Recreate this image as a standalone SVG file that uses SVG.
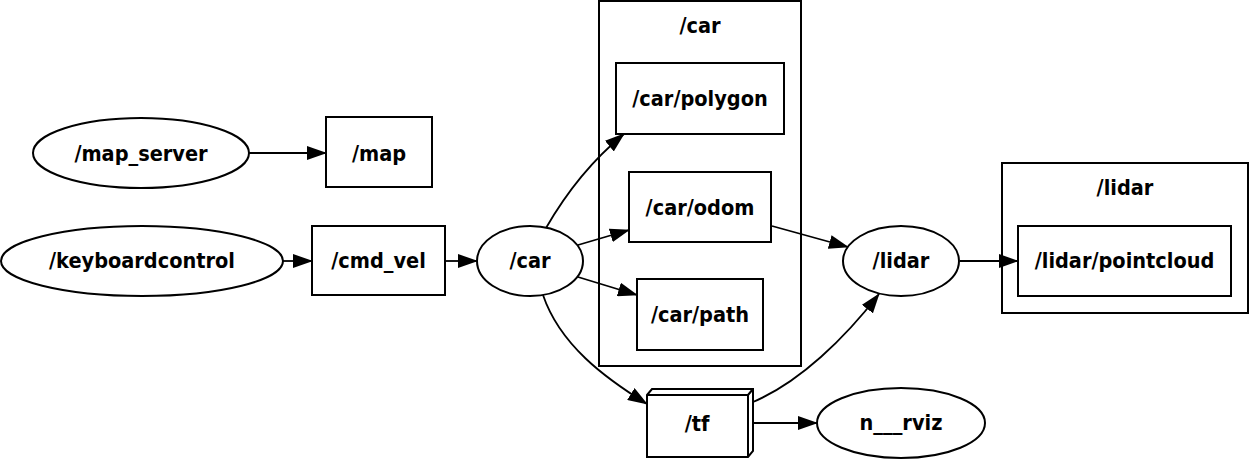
<svg xmlns="http://www.w3.org/2000/svg" width="1249" height="459" viewBox="0 0 1249 459">
<style>
.s{fill:none;stroke:#000;stroke-width:2}
.n{fill:#fff;stroke:#000;stroke-width:2}
text{font-family:"DejaVu Sans Condensed","DejaVu Sans",sans-serif;font-stretch:condensed;font-weight:bold;font-size:21.5px;text-anchor:middle;fill:#000}
.e{fill:none;stroke:#000;stroke-width:1.8;marker-end:url(#a)}
</style>
<defs>
<marker id="a" markerUnits="userSpaceOnUse" markerWidth="20" markerHeight="14" refX="19" refY="7" orient="auto" viewBox="0 0 20 14">
<path d="M0,0 L20,7 L0,14 z" fill="#000"/>
</marker>
</defs>
<rect width="1249" height="459" fill="#fff"/>
<g id="cluster_car">
<rect class="s" x="599" y="1" width="202" height="365"/>
<text x="700" y="33">/car</text>
</g>
<g id="cluster_lidar">
<rect class="s" x="1002" y="163" width="246" height="150"/>
<text x="1125" y="195">/lidar</text>
</g>
<g id="connectors">
<path class="e" d="M249,153 L326,153"/>
<path class="e" d="M283,261 L312,261"/>
<path class="e" d="M445,261 L477,261"/>
<path class="e" d="M546,228 C565,195 590,162 624,134"/>
<path class="e" d="M578,245 L629,230"/>
<path class="e" d="M578,277 L637,295"/>
<path class="e" d="M543,295 C560,345 605,378 647,404"/>
<path class="e" d="M772,226 L848,247"/>
<path class="e" d="M753,402 C800,382 845,338 879,294"/>
<path class="e" d="M960,261 L1018,261"/>
<path class="e" d="M753,423 L817,423"/>
</g>
<g id="map_server">
<ellipse class="n" cx="141" cy="153" rx="108" ry="35"/>
<text x="141" y="161">/map_server</text>
</g>
<g id="map">
<rect class="n" x="326" y="117" width="106" height="70"/>
<text x="379" y="161">/map</text>
</g>
<g id="keyboardcontrol">
<ellipse class="n" cx="142" cy="261" rx="141" ry="35"/>
<text x="142" y="268">/keyboardcontrol</text>
</g>
<g id="cmd_vel">
<rect class="n" x="312" y="226" width="133" height="69"/>
<text x="378.5" y="268">/cmd_vel</text>
</g>
<g id="car">
<ellipse class="n" cx="530" cy="261" rx="53" ry="35"/>
<text x="530" y="268">/car</text>
</g>
<g id="car_polygon">
<rect class="n" x="616" y="63" width="168" height="71"/>
<text x="700" y="106">/car/polygon</text>
</g>
<g id="car_odom">
<rect class="n" x="629" y="172" width="142" height="70"/>
<text x="700" y="215">/car/odom</text>
</g>
<g id="car_path">
<rect class="n" x="637" y="279" width="126" height="71"/>
<text x="700" y="322">/car/path</text>
</g>
<g id="lidar">
<ellipse class="n" cx="901" cy="261" rx="58" ry="35"/>
<text x="901" y="268">/lidar</text>
</g>
<g id="lidar_pointcloud">
<rect class="n" x="1018" y="226" width="213" height="70"/>
<text x="1124.5" y="268">/lidar/pointcloud</text>
</g>
<g id="tf">
<path class="n" d="M647,395 L652,389 L753,389 L753,451 L748,457 L647,457 Z"/>
<path class="s" d="M647,395 L748,395 L748,457 M748,395 L753,389"/>
<text x="697" y="431">/tf</text>
</g>
<g id="n___rviz">
<ellipse class="n" cx="901" cy="423" rx="84" ry="35"/>
<text x="901" y="430">n___rviz</text>
</g>
</svg>
